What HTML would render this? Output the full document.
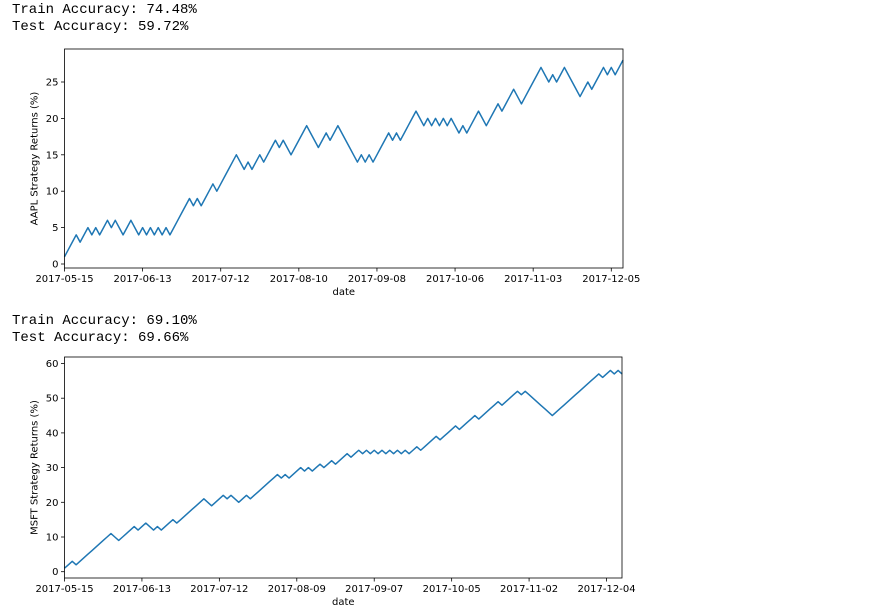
<!DOCTYPE html>
<html><head><meta charset="utf-8"><style>
body{margin:0;background:#fff;width:890px;height:616px;overflow:hidden}
svg{display:block}
.mono{font-family:"Liberation Mono",monospace;font-size:14px;fill:#000}
.tk{font-family:"DejaVu Sans","Liberation Sans",sans-serif;font-size:10px;fill:#000}
</style></head><body>
<svg id="svg" width="890" height="616" xmlns="http://www.w3.org/2000/svg">
<text class="mono" x="12" y="13">Train Accuracy: 74.48%</text>
<text class="mono" x="12" y="30">Test Accuracy: 59.72%</text>
<text class="mono" x="12" y="324">Train Accuracy: 69.10%</text>
<text class="mono" x="12" y="341">Test Accuracy: 69.66%</text>
</svg>
<script>
const aaplValues=[1,2,3,4,3,4,5,4,5,4,5,6,5,6,5,4,5,6,5,4,5,4,5,4,5,4,5,4,5,6,7,8,9,8,9,8,9,10,11,10,11,12,13,14,15,14,13,14,13,14,15,14,15,16,17,16,17,16,15,16,17,18,19,18,17,16,17,18,17,18,19,18,17,16,15,14,15,14,15,14,15,16,17,18,17,18,17,18,19,20,21,20,19,20,19,20,19,20,19,20,19,18,19,18,19,20,21,20,19,20,21,22,21,22,23,24,23,22,23,24,25,26,27,26,25,26,25,26,27,26,25,24,23,24,25,24,25,26,27,26,27,26,27,28];
const aaplYTicks=[0,5,10,15,20,25];
const aaplXTickLabels=["2017-05-15","2017-06-13","2017-07-12","2017-08-10","2017-09-08","2017-10-06","2017-11-03","2017-12-05"];
const aaplXTickIdx=[0,20,40,60,80,100,120,140];
const msftValues=[1,2,3,2,3,4,5,6,7,8,9,10,11,10,9,10,11,12,13,12,13,14,13,12,13,12,13,14,15,14,15,16,17,18,19,20,21,20,19,20,21,22,21,22,21,20,21,22,21,22,23,24,25,26,27,28,27,28,27,28,29,30,29,30,29,30,31,30,31,32,31,32,33,34,33,34,35,34,35,34,35,34,35,34,35,34,35,34,35,34,35,36,35,36,37,38,39,38,39,40,41,42,41,42,43,44,45,44,45,46,47,48,49,48,49,50,51,52,51,52,51,50,49,48,47,46,45,46,47,48,49,50,51,52,53,54,55,56,57,56,57,58,57,58,57];
const msftYTicks=[0,10,20,30,40,50,60];
const msftXTickLabels=["2017-05-15","2017-06-13","2017-07-12","2017-08-09","2017-09-07","2017-10-05","2017-11-02","2017-12-04"];
const msftXTickIdx=[0,20,40,60,80,100,120,140];

const NS="http://www.w3.org/2000/svg";
const svg=document.getElementById('svg');
function mk(tag,attrs,parent){const e=document.createElementNS(NS,tag);for(const k in attrs)e.setAttribute(k,attrs[k]);(parent||svg).appendChild(e);return e;}

function chart(cfg){
  const g=mk('g',{});
  
  
  const {L,R,T,B,y0px,yMax,yMaxPx}=cfg;
  const n=cfg.values.length;
  const xs=i=>L+(R-L)*i/(n-1);
  const ys=v=>y0px+(yMaxPx-y0px)*v/yMax;
  // line
  const d=cfg.values.map((v,i)=>(i?'L':'M')+xs(i).toFixed(2)+' '+ys(v).toFixed(2)).join(' ');
  const p=mk('path',{d:d,fill:'none',stroke:'#1f77b4','stroke-width':1.5,'stroke-linejoin':'round'},g);
  
  
  // frame
  const fr=mk('rect',{x:L,y:T,width:R-L,height:B-T,fill:'none',stroke:'#000','stroke-width':0.8},g);
  
  
  // y ticks
  cfg.yTicks.forEach(v=>{
    const y=ys(v);
    mk('line',{x1:L-3.5,x2:L,y1:y,y2:y,stroke:'#000','stroke-width':0.8},g);
    const t=mk('text',{x:L-6,y:y+3.5,'text-anchor':'end',class:'tk'},g);
    t.textContent=v;
    
    
  });
  // x ticks
  cfg.xIdx.forEach((idx,k)=>{
    const x=xs(idx);
    mk('line',{x1:x,x2:x,y1:B,y2:B+3.5,stroke:'#000','stroke-width':0.8},g);
    const t=mk('text',{x:x,y:B+14,'text-anchor':'middle',class:'tk'},g);
    t.textContent=cfg.xLabels[k];
    
    
  });
  const xl=mk('text',{x:(L+R)/2,y:B+27,'text-anchor':'middle',class:'tk'},g);
  xl.textContent='date';
  
  
  const yl=mk('text',{x:0,y:0,'text-anchor':'middle',class:'tk',transform:`translate(${L-27},${(T+B)/2}) rotate(-90)`},g);
  yl.textContent=cfg.ylabel;
  
  
}
chart({name:'aapl-chart',values:aaplValues,yTicks:aaplYTicks,xLabels:aaplXTickLabels,xIdx:aaplXTickIdx,
  L:64.5,R:623,T:49,B:268,y0px:264,yMax:25,yMaxPx:82,ylabel:'AAPL Strategy Returns (%)'});
chart({name:'msft-chart',values:msftValues,yTicks:msftYTicks,xLabels:msftXTickLabels,xIdx:msftXTickIdx,
  L:64.5,R:622,T:357,B:578,y0px:571.7,yMax:60,yMaxPx:363.5,ylabel:'MSFT Strategy Returns (%)'});
</script>
</body></html>
